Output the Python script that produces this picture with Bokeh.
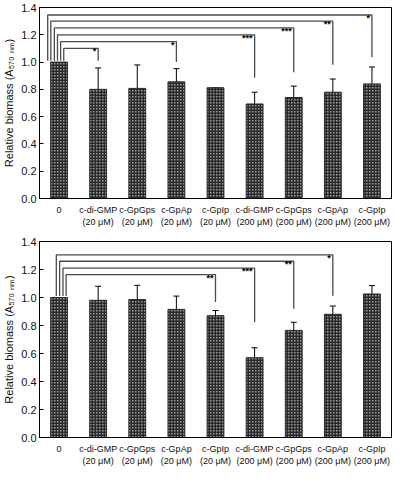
from bokeh.plotting import figure
from bokeh.layouts import column
from bokeh.models import Range1d, FixedTicker, ColumnDataSource, Whisker, TeeHead, Label, PrintfTickFormatter
from bokeh.embed import file_html
from bokeh.resources import INLINE
from bokeh.core.properties import value

categories = ["0", "c-di-GMP\n(20 μM)", "c-GpGps\n(20 μM)", "c-GpAp\n(20 μM)", "c-GpIp\n(20 μM)",
              "c-di-GMP\n(200 μM)", "c-GpGps\n(200 μM)", "c-GpAp\n(200 μM)", "c-GpIp\n(200 μM)"]
y_ticks = [0.0, 0.2, 0.4, 0.6, 0.8, 1.0, 1.2, 1.4]

# Panel (a)
a_values = [1.0, 0.80, 0.807, 0.855, 0.812, 0.693, 0.74, 0.779, 0.84]
a_upper = [1.0, 0.957, 0.979, 0.952, 0.812, 0.779, 0.824, 0.876, 0.964]
a_lower = [1.0, 0.643, 0.636, 0.745, 0.64, 0.605, 0.652, 0.676, 0.712]
a_targets = [1, 3, 5, 6, 7, 8]
a_heights = [1.10, 1.15, 1.20, 1.25, 1.30, 1.345]
a_left = [0.12, 0.04, -0.04, -0.12, -0.21, -0.29]
a_ends = [1.01, 1.00, 0.885, 0.925, 0.98, 1.035]
a_stars = ["*", "*", "***", "***", "**", "*"]

# Panel (b)
b_values = [1.0, 0.98, 0.985, 0.915, 0.87, 0.57, 0.765, 0.88, 1.025]
b_upper = [1.0, 1.08, 1.087, 1.01, 0.907, 0.641, 0.823, 0.939, 1.085]
b_lower = [1.0, 0.885, 0.882, 0.818, 0.827, 0.493, 0.71, 0.829, 0.972]
b_targets = [4, 5, 6, 7]
b_heights = [1.163, 1.21, 1.259, 1.305]
b_left = [0.18, 0.10, 0.015, -0.07]
b_ends = [0.968, 0.823, 0.919, 1.013]
b_stars = ["**", "***", "**", "*"]

FONT = "Liberation Sans"
NARROW = "'Liberation Sans Narrow', 'Arial Narrow', 'Liberation Sans'"


def make_panel(tag, values, upper, lower, targets, heights, lefts, ends, stars, height, top):
    n = len(categories)
    p = figure(width=392, height=height, output_backend="svg", toolbar_location=None,
               x_range=Range1d(-0.5, n - 0.5), y_range=Range1d(0, 1.4),
               min_border_left=33, min_border_right=1, min_border_top=top, min_border_bottom=0)
    p.xgrid.visible = False
    p.ygrid.visible = False
    p.outline_line_color = "black"
    p.outline_line_width = 1
    p.background_fill_color = "white"
    p.border_fill_color = "white"

    xs = list(range(n))
    p.vbar(x=xs, top=values, width=0.43, bottom=0,
           fill_color="#9c9c9c", line_color="#2a2a2a", line_width=1,
           hatch_pattern="+", hatch_color="#2a2a2a", hatch_scale=3, hatch_weight=2)

    ex = [i for i in xs if upper[i] > lower[i]]
    src = ColumnDataSource(dict(x=ex, upper=[upper[i] for i in ex], lower=[lower[i] for i in ex]))
    p.add_layout(Whisker(source=src, base="x", upper="upper", lower="lower",
                         line_color="black", line_width=1,
                         upper_head=TeeHead(size=6, line_color="black", line_width=1),
                         lower_head=TeeHead(size=6, line_color="black", line_width=1)))

    bx = [[l, l, t, t] for l, t in zip(lefts, targets)]
    by = [[1.01, h, h, e] for h, e in zip(heights, ends)]
    p.multi_line(xs=bx, ys=by, line_color="#4a4a4a", line_width=1.3)
    p.text(x=targets, y=heights, text=stars, text_align="right", text_baseline="alphabetic",
           x_offset=-2, y_offset=3, text_font_size="9px", text_font=value(FONT),
           text_font_style="bold", text_color="black")

    p.xaxis.ticker = FixedTicker(ticks=xs)
    p.xaxis.major_label_overrides = {i: c for i, c in enumerate(categories)}
    p.xaxis.major_tick_in = 0
    p.xaxis.major_tick_out = 0
    p.xaxis.minor_tick_line_color = None
    p.xaxis.major_label_standoff = 6
    p.xaxis.major_label_text_font = NARROW
    p.xaxis.major_label_text_font_size = "9px"
    p.xaxis.major_label_text_color = "#111111"
    p.xaxis.axis_line_color = "black"

    p.yaxis.ticker = FixedTicker(ticks=y_ticks)
    p.yaxis.formatter = PrintfTickFormatter(format="%.1f")
    p.yaxis.major_tick_in = 4
    p.yaxis.major_tick_out = 0
    p.yaxis.minor_tick_line_color = None
    p.yaxis.major_label_standoff = 3
    p.yaxis.major_label_text_font = FONT
    p.yaxis.major_label_text_font_size = "11px"
    p.yaxis.major_label_text_color = "#111111"
    p.yaxis.axis_line_color = "black"
    p.yaxis.axis_label = "Relative biomass (A₅₇₀ ₙₘ)"
    p.yaxis.axis_label_text_font = FONT
    p.yaxis.axis_label_text_font_size = "11px"
    p.yaxis.axis_label_text_font_style = "normal"
    p.yaxis.axis_label_text_color = "#111111"
    p.yaxis.axis_label_standoff = 3

    p.add_layout(Label(x=-0.5, y=1.395, x_offset=-33, text=tag, text_align="left",
                       text_baseline="middle", text_font=FONT, text_font_size="10.5px",
                       text_color="#111111"))
    return p


pa = make_panel("(a)", a_values, a_upper, a_lower, a_targets, a_heights, a_left, a_ends, a_stars, 229, 7)
pb = make_panel("(b)", b_values, b_upper, b_lower, b_targets, b_heights, b_left, b_ends, b_stars, 239, 12)

layout = column(pa, pb, spacing=0)
open("out.html", "w").write(file_html(layout, INLINE))
